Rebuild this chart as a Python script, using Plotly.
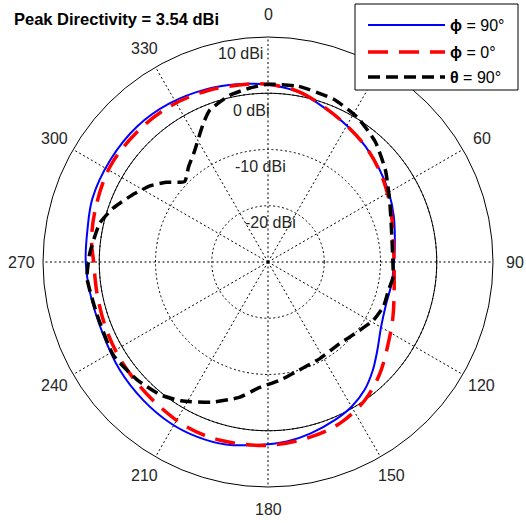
import numpy as np
import plotly.graph_objects as go

# Directivity cuts (dBi) sampled vs. angle (deg, clockwise from top)
phi90_ang = [0, 10, 20, 30, 40, 50, 60, 70, 80, 90, 100, 110, 120, 129, 136, 143,
             150, 157, 166, 174, 180, 193, 202, 211, 222, 234, 247, 260, 270, 280,
             290, 303, 316, 328, 341, 350, 360]
phi90_db = [1.5, 0.7, -0.8, -2.0, -3.1, -4.2, -5.2, -6.2, -7.1, -7.6, -7.7, -7.7, -6.8,
            -5.0, -3.2, -1.5, -0.3, 0.5, 1.4, 2.1, 2.4, 3.3, 3.54, 3.5, 3.1, 2.6, 2.0,
            2.1, 2.4, 2.6, 3.2, 3.4, 3.5, 3.2, 2.6, 2.1, 1.5]

phi0_ang = [0, 10, 20, 30, 40, 50, 60, 70, 80, 90, 104, 114, 124, 135, 145, 156, 166,
            180, 195, 206, 217, 227, 238, 249, 260, 270, 277, 287, 301, 315, 328, 341,
            354, 360]
phi0_db = [1.6, 0.8, -0.7, -2.0, -3.1, -4.3, -5.5, -6.6, -7.4, -7.6, -6.9, -5.7, -4.2,
           -1.9, 0.0, 1.4, 2.0, 2.6, 2.8, 2.7, 2.1, 1.7, 1.4, 1.1, 0.9, 1.0, 1.6, 2.1,
           2.8, 2.8, 2.7, 2.3, 1.8, 1.6]

theta90_ang = [0, 10, 22, 32, 42, 52, 64, 78, 90, 97, 103, 111, 119, 127, 139, 152, 164,
               174, 184, 192, 202, 212, 219, 228, 239, 253, 265, 273, 283, 289, 296, 303,
               308, 314, 320, 326, 335, 339, 347, 354, 360]
theta90_db = [1.6, 1.7, 1.2, 0.2, -1.4, -3.5, -5.9, -7.5, -7.8, -7.6, -8.0, -8.0, -8.6,
              -9.7, -10.7, -10.5, -10.0, -8.9, -7.6, -5.4, -3.1, -0.9, 0.4, 1.3, 2.1, 1.8,
              2.3, 1.7, 0.7, -0.8, -3.0, -5.1, -7.0, -9.4, -8.0, -6.5, -2.8, -1.1, 0.4,
              1.1, 1.6]

angle_ticks = list(range(0, 360, 30))
angle_labels = [str(a) for a in angle_ticks]
ring_vals = [-20, -10, 0, 10]
ring_labels = ["-20 dBi", "-10 dBi", "0 dBi", "10 dBi"]
r_min, r_max = -30, 10
peak_db = 3.54
title_text = f"<b>Peak Directivity = {peak_db:.2f} dBi</b>"
legend_names = ["<b>ϕ</b> = 90°", "<b>ϕ</b> = 0°", "<b>θ</b> = 90°"]

W, H = 526, 523
cx, cy, R = 268, 262, 225
LABEL_R = 247
FONT = "Arial, Liberation Sans, Helvetica, sans-serif"
GRID_DOT = "2px,2.5px"
LEG_BOX = (355, 4, 518, 90)  # left, top, right, bottom in px


def px(x):
    return x / W


def py(y):
    return 1 - y / H


fig = go.Figure()

# solid 0 dBi reference ring
ring_theta = np.arange(0, 361, 2)
fig.add_trace(go.Scatterpolar(r=np.zeros_like(ring_theta), theta=ring_theta, mode="lines",
                              line=dict(color="black", width=1), hoverinfo="skip",
                              showlegend=False))

styles = [
    dict(color="#0000FF", width=2),
    dict(color="#FF0000", width=3.5, dash="20px,11px"),
    dict(color="black", width=3.5, dash="12px,6px"),
]
smooth = [1.0, 1.0, 0.5]
series = [(phi90_ang, phi90_db), (phi0_ang, phi0_db), (theta90_ang, theta90_db)]
for (ang, db), st, sm, name in zip(series, styles, smooth, legend_names):
    fig.add_trace(go.Scatterpolar(r=db, theta=ang, mode="lines",
                                  line=dict(**st, shape="spline", smoothing=sm),
                                  name=name, showlegend=False))

fig.update_layout(
    width=W, height=H,
    margin=dict(l=0, r=0, t=0, b=0),
    paper_bgcolor="white",
    font=dict(family=FONT, color="#262626"),
    polar=dict(
        domain=dict(x=[px(cx - R), px(cx + R)], y=[py(cy + R), py(cy - R)]),
        bgcolor="white",
        angularaxis=dict(
            rotation=90, direction="clockwise",
            tickmode="array", tickvals=angle_ticks, showticklabels=False,
            showline=True, linecolor="black", linewidth=1,
            showgrid=True, gridcolor="black", griddash=GRID_DOT, gridwidth=1,
            ticks="",
        ),
        radialaxis=dict(
            range=[r_min, r_max], tickmode="array", tickvals=ring_vals[:-1],
            showticklabels=False, ticks="", showline=False,
            showgrid=True, gridcolor="black", griddash=GRID_DOT, gridwidth=1,
        ),
    ),
)

annotations = []

# angle labels centred on a ring just outside the plot (hidden behind the legend box)
for a, lab in zip(angle_ticks, angle_labels):
    t = np.deg2rad(a)
    lx, ly = cx + LABEL_R * np.sin(t), cy - LABEL_R * np.cos(t)
    if LEG_BOX[0] <= lx <= LEG_BOX[2] and LEG_BOX[1] <= ly <= LEG_BOX[3]:
        continue
    annotations.append(dict(x=px(lx), y=py(ly), xref="paper", yref="paper", text=lab,
                            showarrow=False, xanchor="center", yanchor="middle",
                            font=dict(family=FONT, size=16, color="#262626")))

# ring labels along the top
for v, lab in zip(ring_vals, ring_labels):
    rpx = R * (v - r_min) / (r_max - r_min)
    annotations.append(dict(x=px(cx + 13 - 0.18 * rpx), y=py(cy - rpx + 17), xref="paper",
                            yref="paper", text=lab, showarrow=False, xanchor="center",
                            yanchor="middle", font=dict(family=FONT, size=16, color="#262626")))

annotations.append(dict(x=px(12), y=py(19), xref="paper", yref="paper", text=title_text,
                        showarrow=False, xanchor="left", yanchor="middle",
                        font=dict(family=FONT, size=16.5, color="black")))

# legend box
shapes = [dict(type="rect", xref="paper", yref="paper", x0=px(LEG_BOX[0]), x1=px(LEG_BOX[2]),
               y0=py(LEG_BOX[3]), y1=py(LEG_BOX[1]), line=dict(color="black", width=1),
               fillcolor="white", layer="above")]
leg_rows = [25, 52, 77]
for yrow, st, name in zip(leg_rows, styles, legend_names):
    shapes.append(dict(type="line", xref="paper", yref="paper", x0=px(368), x1=px(445),
                       y0=py(yrow), y1=py(yrow), layer="above",
                       line=dict(color=st["color"], width=st["width"],
                                 dash=st.get("dash", "solid"))))
    annotations.append(dict(x=px(448), y=py(yrow), xref="paper", yref="paper", text=name,
                            showarrow=False, xanchor="left", yanchor="middle",
                            font=dict(family=FONT, size=16, color="black")))

fig.update_layout(shapes=shapes, annotations=annotations)

fig.write_html("out.html")
